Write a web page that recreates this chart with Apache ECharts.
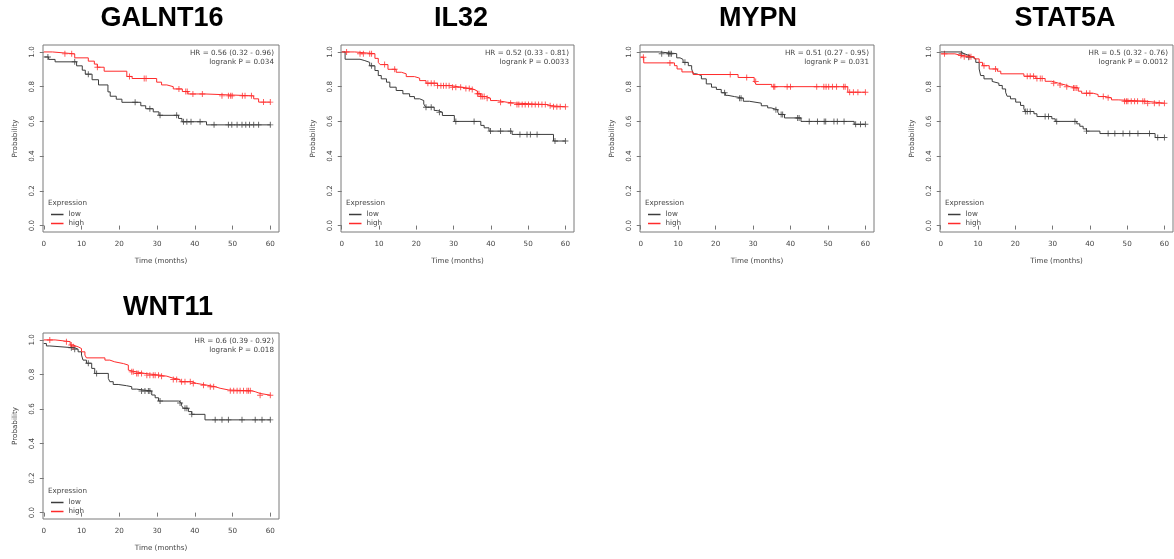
<!DOCTYPE html>
<html>
<head>
<meta charset="utf-8">
<script src="https://cdn.jsdelivr.net/npm/echarts@6/dist/echarts.min.js"></script>
<style>
  html, body { margin: 0; background: #fff; }
  #main { width: 1174px; height: 559px; }
</style>
</head>
<body>
<div id="main"></div>
<script>
// Kaplan-Meier curves: [time (months), survival]
const genes = ['GALNT16', 'IL32', 'MYPN', 'STAT5A', 'WNT11'];
const hrLabels = ['HR = 0.56 (0.32 - 0.96)', 'HR = 0.52 (0.33 - 0.81)', 'HR = 0.51 (0.27 - 0.95)',
  'HR = 0.5 (0.32 - 0.76)', 'HR = 0.6 (0.39 - 0.92)'];
const pLabels = ['logrank P = 0.034', 'logrank P = 0.0033', 'logrank P = 0.031',
  'logrank P = 0.0012', 'logrank P = 0.018'];
const xTicks = [0, 10, 20, 30, 40, 50, 60];
const yTicks = [0, 0.2, 0.4, 0.6, 0.8, 1.0];

const galnt16Low = [[0, 0.971], [1.3, 0.957], [3, 0.943], [8.7, 0.92], [10.2, 0.895], [11, 0.872], [12.8, 0.84],
  [14.5, 0.81], [17, 0.77], [17.6, 0.745], [19.2, 0.728], [20.7, 0.71], [25.7, 0.69], [27, 0.673], [29, 0.655],
  [30.5, 0.635], [35.7, 0.617], [36.6, 0.598], [43.1, 0.58], [60, 0.58]];
const galnt16LowCens = [1.1, 8.2, 11.8, 24.2, 28.1, 30.8, 35.2, 37, 37.9, 39, 41.4, 45.1, 48.9, 49.8, 51.2, 52.5,
  53.5, 54.5, 55.6, 56.9, 60];
const galnt16High = [[0, 1.0], [2.3, 0.989], [8.2, 0.966], [11.8, 0.947], [13.4, 0.93], [14.2, 0.912], [16, 0.889],
  [22, 0.859], [23.4, 0.847], [29.9, 0.826], [31.2, 0.81], [32.6, 0.8], [34.3, 0.787], [36.7, 0.772], [38.2, 0.758],
  [42.7, 0.747], [55.6, 0.73], [56.9, 0.711], [60, 0.711]];
const galnt16HighCens = [5.6, 7.4, 14.2, 22.7, 26.6, 27.1, 35.8, 37.6, 38, 39.5, 42, 47.2, 48.9, 49.5, 49.9, 52.6,
  53.3, 55, 58.2, 60];

const il32Low = [[0, 1.0], [0.9, 0.958], [4.9, 0.95], [6.2, 0.94], [7.5, 0.92], [8.9, 0.893], [9.8, 0.864],
  [10.6, 0.845], [12, 0.826], [12.9, 0.797], [14.6, 0.778], [16.4, 0.759], [18.2, 0.743], [19.5, 0.73],
  [20.9, 0.72], [22, 0.7], [22.5, 0.682], [24.8, 0.663], [25.7, 0.653], [27, 0.634], [30.2, 0.6], [37.3, 0.577],
  [38.2, 0.563], [39.5, 0.544], [45.7, 0.525], [56.8, 0.487], [60, 0.487]];
const il32LowCens = [8, 22.6, 24, 26.2, 30.6, 35.5, 39.9, 42.6, 45.3, 47.8, 49.7, 50.6, 52.4, 57.2, 60];
const il32High = [[0, 1.0], [3.5, 0.99], [8.9, 0.963], [9.8, 0.94], [10.3, 0.927], [12.4, 0.9], [14.6, 0.883],
  [16, 0.874], [17.3, 0.858], [19.5, 0.849], [20.9, 0.835], [22.6, 0.82], [25.7, 0.806], [29.3, 0.797], [32, 0.79],
  [34.6, 0.784], [35.5, 0.774], [36.4, 0.759], [37.3, 0.743], [38.6, 0.734], [39.9, 0.72], [41.7, 0.71],
  [44.4, 0.705], [47, 0.697], [55, 0.69], [56.3, 0.684], [60, 0.684]];
const il32HighCens = [1.3, 4.9, 5.8, 7.5, 8, 11.5, 14.2, 23.1, 24, 24.8, 25.7, 26.6, 27.3, 28, 28.8, 29.7, 30.6,
  31.9, 33.3, 34.2, 35, 36.4, 36.8, 37.3, 37.7, 38.2, 39, 42.6, 45.3, 47, 47.5, 48.4, 49.2, 50.1, 51, 51.9, 52.8,
  53.7, 54.6, 55.9, 56.8, 57.7, 58.6, 60];

const mypnLow = [[0, 1.0], [5, 0.99], [9.6, 0.966], [10.5, 0.957], [11.3, 0.94], [12.7, 0.921], [13.6, 0.902],
  [14, 0.874], [14.9, 0.864], [16.2, 0.845], [17.5, 0.816], [18.9, 0.797], [20.2, 0.784], [21.5, 0.765],
  [22.6, 0.75], [23.3, 0.743], [25, 0.734], [27.4, 0.716], [29, 0.705], [32.2, 0.69], [33.9, 0.678], [34.8, 0.667],
  [36.6, 0.653], [37, 0.64], [38.4, 0.62], [42.8, 0.6], [57, 0.583], [60, 0.583]];
const mypnLowCens = [5.6, 7.4, 7.8, 8.2, 11.8, 22.4, 26.4, 26.8, 36.1, 37.5, 37.9, 41.9, 42.3, 45, 47.2, 49, 49.4,
  51.6, 52.5, 54.3, 57.4, 58.7, 60];
const mypnHigh = [[0, 0.97], [0.8, 0.937], [9, 0.921], [9.7, 0.902], [11, 0.885], [14, 0.87], [26, 0.853],
  [30.3, 0.83], [30.8, 0.813], [35, 0.8], [55.3, 0.768], [60, 0.768]];
const mypnHighCens = [0.7, 7.8, 23.9, 28.3, 30.7, 35.5, 35.8, 39.1, 40, 47, 48.9, 49.5, 50.2, 51.2, 52.3, 54.2,
  54.6, 55.8, 56.8, 58, 60];

const stat5aLow = [[0, 1.0], [5.4, 0.99], [6.3, 0.98], [7.5, 0.97], [8.5, 0.96], [9.4, 0.94], [10.3, 0.902],
  [10.7, 0.864], [11.6, 0.845], [13.8, 0.83], [14.3, 0.82], [15.6, 0.807], [16.5, 0.787], [17.4, 0.768],
  [17.8, 0.745], [18.7, 0.73], [20.1, 0.711], [21.4, 0.692], [22.3, 0.672], [22.7, 0.657], [25, 0.644],
  [25.8, 0.628], [29.8, 0.615], [30.7, 0.6], [36.5, 0.586], [37.3, 0.572], [38.2, 0.557], [39.1, 0.544],
  [42.7, 0.53], [57.5, 0.507], [60, 0.507]];
const stat5aLowCens = [5.6, 7.5, 22.7, 23.2, 24, 28, 28.9, 31.1, 36, 39.1, 44.9, 46.7, 48.9, 50.7, 52.9, 56, 58.2, 60];
const stat5aHigh = [[0, 0.989], [3.8, 0.98], [5.5, 0.972], [9, 0.96], [10.3, 0.94], [11.2, 0.921], [13, 0.902],
  [15.2, 0.889], [16.1, 0.874], [22.3, 0.86], [25.5, 0.847], [28, 0.831], [29.8, 0.82], [31.6, 0.81], [33.4, 0.8],
  [34.7, 0.793], [36.9, 0.774], [37.8, 0.762], [40.9, 0.755], [42.2, 0.743], [44, 0.736], [45.8, 0.724],
  [47.6, 0.716], [55.1, 0.705], [60, 0.705]];
const stat5aHighCens = [1, 5.4, 6.3, 7.6, 8.1, 11.6, 14.7, 23.2, 24, 24.9, 25.8, 26.7, 27.2, 30.3, 32, 33.8, 35.6,
  36, 36.5, 39.1, 40, 43.6, 44.9, 49.3, 49.8, 50.2, 51.1, 52, 52.8, 54.2, 54.7, 55.5, 57.3, 58.6, 60];

const wnt11Low = [[0, 0.979], [0.7, 0.965], [1.6, 0.954], [8.2, 0.946], [9.1, 0.931], [10, 0.912], [10.4, 0.883],
  [11.3, 0.865], [12.7, 0.835], [13.5, 0.806], [17.1, 0.777], [17.5, 0.758], [18.4, 0.742], [19.7, 0.735],
  [21.9, 0.729], [23.3, 0.715], [24.6, 0.704], [28.6, 0.681], [29.5, 0.665], [30.4, 0.646], [35.7, 0.635],
  [36.5, 0.619], [37, 0.604], [38.3, 0.585], [39.2, 0.569], [42.7, 0.537], [60, 0.537]];
const wnt11LowCens = [7.3, 8.2, 11.8, 14, 25.9, 26.8, 27.7, 28.1, 30.8, 36.1, 37.4, 37.9, 39.2, 45.4, 47.2, 48.9,
  52.5, 56, 57.8, 60];
const wnt11High = [[0, 1.0], [3, 0.99], [7, 0.97], [7.8, 0.96], [9.1, 0.95], [10, 0.931], [10.9, 0.912],
  [11.3, 0.896], [16.2, 0.883], [17.5, 0.873], [18.8, 0.863], [21.1, 0.854], [22.4, 0.825], [22.8, 0.815],
  [24.5, 0.806], [26.8, 0.796], [30.5, 0.79], [32.6, 0.78], [34, 0.771], [36.1, 0.758], [39.2, 0.748],
  [40.5, 0.738], [43.2, 0.729], [45.4, 0.72], [46.7, 0.71], [49, 0.705], [55.1, 0.7], [56, 0.69], [57.3, 0.68],
  [60, 0.68]];
const wnt11HighCens = [1.6, 6, 7.3, 7.8, 23.3, 23.7, 24.6, 25, 25.9, 27.3, 28.1, 29, 29.5, 30.4, 31.2, 34.3, 35.2,
  36.5, 37.4, 38.8, 39.6, 42.3, 44.1, 45, 49.4, 50.3, 51.2, 52, 52.9, 53.8, 54.2, 54.7, 57.3, 60];

const lowCurves = [galnt16Low, il32Low, mypnLow, stat5aLow, wnt11Low];
const lowCensors = [galnt16LowCens, il32LowCens, mypnLowCens, stat5aLowCens, wnt11LowCens];
const highCurves = [galnt16High, il32High, mypnHigh, stat5aHigh, wnt11High];
const highCensors = [galnt16HighCens, il32HighCens, mypnHighCens, stat5aHighCens, wnt11HighCens];

// panel boxes in pixels, title centre
const panels = [
  { left: 43, top: 45, width: 236, height: 187, tx: 162, ty: 19 },
  { left: 341, top: 45, width: 233, height: 187, tx: 461, ty: 19 },
  { left: 640, top: 45, width: 234, height: 187, tx: 758, ty: 19 },
  { left: 940, top: 45, width: 233, height: 187, tx: 1065, ty: 19 },
  { left: 43, top: 333, width: 236, height: 186, tx: 168, ty: 308 }
];

const LOW = '#3c3c3c';
const HIGH = '#ff2b2b';
const FONT = '"DejaVu Sans", sans-serif';
const TXT = '#444';
const PLUS = 'path://M0,4.2H10V5.8H0ZM4.2,0H5.8V10H4.2Z';

// survival at time t (KM step lookup for censor ticks)
function survAt(curve, t) {
  let v = curve[0][1];
  for (const p of curve) {
    if (p[0] <= t) v = p[1];
  }
  return v;
}

const grids = [], xAxes = [], yAxes = [], series = [], graphics = [];

panels.forEach((b, i) => {
  grids.push({
    left: b.left, top: b.top, width: b.width, height: b.height,
    show: true, borderColor: '#7a7a7a', borderWidth: 1, backgroundColor: 'transparent'
  });
  xAxes.push({
    gridIndex: i, type: 'value', min: -0.2, max: 62.3,
    axisLine: { show: false },
    axisTick: { show: true, customValues: xTicks, length: 4, lineStyle: { color: '#777' } },
    axisLabel: { customValues: xTicks, fontSize: 7.2, color: TXT, fontFamily: 'DejaVu Sans', margin: 9 },
    splitLine: { show: false },
    name: 'Time (months)', nameLocation: 'middle', nameGap: 26,
    nameTextStyle: { fontSize: 7.2, color: TXT, fontFamily: 'DejaVu Sans' }
  });
  yAxes.push({
    gridIndex: i, type: 'value', min: -0.037, max: 1.04,
    axisLine: { show: false },
    axisTick: { show: true, customValues: yTicks, length: 4, lineStyle: { color: '#777' } },
    axisLabel: {
      customValues: yTicks, rotate: 90, fontSize: 7.2, color: TXT, fontFamily: 'DejaVu Sans', margin: 7,
      formatter: v => v.toFixed(1)
    },
    splitLine: { show: false },
    name: 'Probability', nameLocation: 'middle', nameGap: 24,
    nameTextStyle: { fontSize: 7.2, color: TXT, fontFamily: 'DejaVu Sans' }
  });

  [[lowCurves[i], lowCensors[i], LOW, 'low'], [highCurves[i], highCensors[i], HIGH, 'high']].forEach(g => {
    series.push({
      type: 'line', name: g[3], xAxisIndex: i, yAxisIndex: i, data: g[0], step: 'end',
      showSymbol: false, symbol: 'none', lineStyle: { color: g[2], width: 1 }, silent: true, animation: false
    });
    series.push({
      type: 'scatter', name: g[3] + ' censored', xAxisIndex: i, yAxisIndex: i,
      data: g[1].map(t => [t, survAt(g[0], t)]),
      symbol: PLUS, symbolSize: 6, itemStyle: { color: g[2] }, silent: true, animation: false
    });
  });

  // title
  graphics.push({
    type: 'text', x: b.tx, y: b.ty,
    style: { text: genes[i], font: 'bold 27px "Liberation Sans", Arial, sans-serif', fill: '#000',
      textAlign: 'center', textVerticalAlign: 'middle' }
  });
  // HR and logrank P
  const rx = b.left + b.width - 5;
  graphics.push({
    type: 'text', x: rx, y: b.top + 8,
    style: { text: hrLabels[i], font: '7.2px ' + FONT, fill: TXT, textAlign: 'right', textVerticalAlign: 'middle' }
  });
  graphics.push({
    type: 'text', x: rx, y: b.top + 17,
    style: { text: pLabels[i], font: '7.2px ' + FONT, fill: TXT, textAlign: 'right', textVerticalAlign: 'middle' }
  });
  // legend
  graphics.push({
    type: 'text', x: b.left + 5, y: b.top + 158.5,
    style: { text: 'Expression', font: '7.2px ' + FONT, fill: TXT, textAlign: 'left', textVerticalAlign: 'middle' }
  });
  [['low', LOW, 169], ['high', HIGH, 178]].forEach(l => {
    graphics.push({
      type: 'rect', shape: { x: b.left + 8, y: b.top + l[2] - 0.25, width: 12.5, height: 1.5 },
      style: { fill: l[1] }, z: 10
    });
    graphics.push({
      type: 'text', x: b.left + 25.5, y: b.top + l[2] + 0.5,
      style: { text: l[0], font: '7.2px ' + FONT, fill: TXT, textAlign: 'left', textVerticalAlign: 'middle' }
    });
  });
});

const chart = echarts.init(document.getElementById('main'), null, { renderer: 'canvas' });
chart.setOption({
  backgroundColor: '#fff',
  animation: false,
  grid: grids,
  xAxis: xAxes,
  yAxis: yAxes,
  series: series,
  graphic: graphics
});
window.onresize = chart.resize;
</script>
</body>
</html>
